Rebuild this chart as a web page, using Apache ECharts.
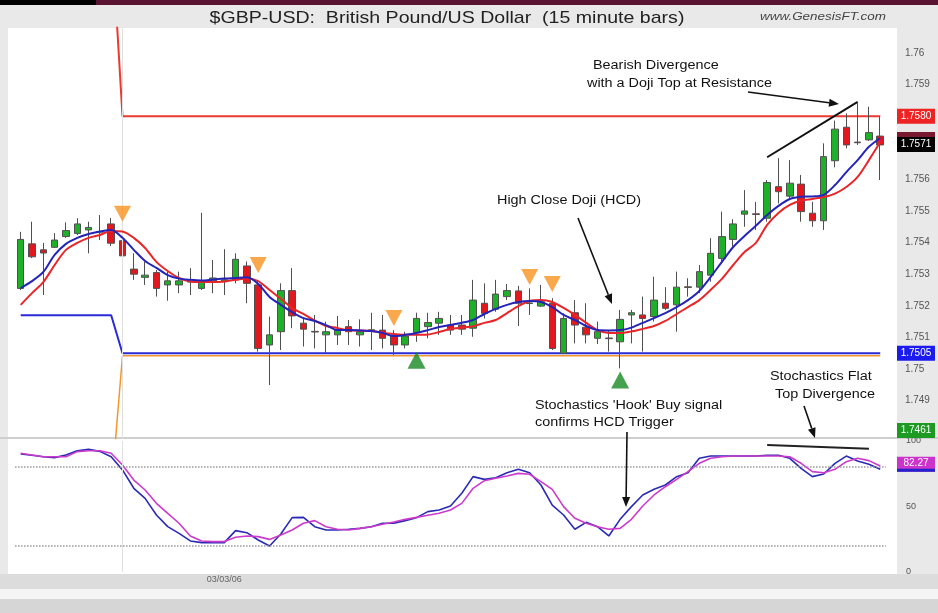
<!DOCTYPE html>
<html><head><meta charset="utf-8">
<script src="https://cdn.jsdelivr.net/npm/echarts@6/dist/echarts.min.js"></script>
<style>html,body{margin:0;padding:0;background:#e9e9e9;}#c{width:938px;height:613px;}</style>
</head><body><div id="c"></div>
<script>
// ---------- DATA ----------
const titleText = '$GBP-USD:  British Pound/US Dollar  (15 minute bars)';
const siteText = 'www.GenesisFT.com';
const dateLabel = '03/03/06';
const dateLabelIndex = 18;
const dayBreakIndex = 9;

// 15-minute bar times
const categories = [];
(function(){ let h = 21, m = 30, d = '03/02'; for (let i = 0; i < 77; i++) { m += 15; if (m >= 60) { m -= 60; h++; } if (h >= 24) { h = 0; d = '03/03'; } categories.push(d + ' ' + String(h).padStart(2,'0') + ':' + String(m).padStart(2,'0')); } })();

// [open, close, low, high]
const ohlc = [
 [1.75255,1.75410,1.75250,1.75434],[1.75396,1.75355,1.75351,1.75466],[1.75377,1.75367,1.75234,1.75399],[1.75385,1.75408,1.75383,1.75430],[1.75419,1.75438,1.75415,1.75464],
 [1.75429,1.75459,1.75424,1.75477],[1.75440,1.75448,1.75366,1.75466],[1.75435,1.75433,1.75408,1.75487],[1.75459,1.75398,1.75389,1.75478],[1.75406,1.75358,1.75303,1.75419],
 [1.75316,1.75300,1.75282,1.75366],[1.75290,1.75297,1.75266,1.75340],[1.75305,1.75255,1.75229,1.75313],[1.75266,1.75279,1.75216,1.75308],[1.75266,1.75279,1.75240,1.75308],
 [1.75277,1.75275,1.75234,1.75319],[1.75255,1.75276,1.75250,1.75494],[1.75279,1.75288,1.75240,1.75345],[1.75276,1.75282,1.75234,1.75379],[1.75282,1.75347,1.75271,1.75366],
 [1.75326,1.75271,1.75208,1.75340],[1.75266,1.75065,1.75055,1.75282],[1.75076,1.75108,1.74949,1.75166],[1.75118,1.75248,1.75060,1.75271],[1.75248,1.75168,1.75129,1.75319],
 [1.75145,1.75126,1.75071,1.75161],[1.75119,1.75117,1.75065,1.75171],[1.75108,1.75118,1.75050,1.75150],[1.75108,1.75126,1.75076,1.75168],[1.75134,1.75118,1.75076,1.75155],
 [1.75108,1.75118,1.75071,1.75157],[1.75124,1.75122,1.75060,1.75178],[1.75123,1.75097,1.75065,1.75171],[1.75104,1.75076,1.75044,1.75123],[1.75076,1.75104,1.75065,1.75118],
 [1.75115,1.75160,1.75086,1.75178],[1.75134,1.75147,1.75097,1.75178],[1.75145,1.75160,1.75108,1.75181],[1.75139,1.75123,1.75108,1.75171],[1.75139,1.75126,1.75108,1.75171],
 [1.75129,1.75218,1.75102,1.75282],[1.75208,1.75176,1.75160,1.75271],[1.75189,1.75237,1.75181,1.75282],[1.75229,1.75248,1.75218,1.75269],[1.75247,1.75208,1.75136,1.75263],
 [1.75209,1.75207,1.75171,1.75255],[1.75199,1.75213,1.75197,1.75266],[1.75208,1.75065,1.75060,1.75224],[1.75050,1.75160,1.75047,1.75176],[1.75178,1.75139,1.75081,1.75218],
 [1.75132,1.75108,1.75081,1.75208],[1.75097,1.75118,1.75079,1.75150],[1.75098,1.75096,1.75055,1.75123],[1.75086,1.75157,1.75002,1.75187],[1.75171,1.75178,1.75081,1.75187],
 [1.75171,1.75160,1.75055,1.75229],[1.75166,1.75218,1.75150,1.75292],[1.75208,1.75192,1.75187,1.75259],[1.75203,1.75259,1.75118,1.75308],[1.75260,1.75258,1.75229,1.75287],
 [1.75259,1.75308,1.75240,1.75329],[1.75297,1.75366,1.75276,1.75414],[1.75350,1.75419,1.75334,1.75498],[1.75410,1.75459,1.75387,1.75474],[1.75490,1.75500,1.75450,1.75566],
 [1.75491,1.75489,1.75440,1.75529],[1.75477,1.75590,1.75466,1.75598],[1.75577,1.75561,1.75524,1.75667],[1.75547,1.75588,1.75535,1.75661],[1.75585,1.75498,1.75466,1.75614],
 [1.75493,1.75469,1.75450,1.75529],[1.75469,1.75672,1.75440,1.75714],[1.75659,1.75759,1.75638,1.75786],[1.75765,1.75709,1.75698,1.75809],[1.75718,1.75716,1.75709,1.75841],
 [1.75725,1.75748,1.75722,1.75830],[1.75737,1.75709,1.75598,1.75798]
];

const fastMA = [
 1.75256,1.75278,1.75307,1.75361,1.75396,1.75415,1.75427,1.75435,1.75440,1.75415,
 1.75377,1.75342,1.75320,1.75297,1.75286,1.75282,1.75280,1.75283,1.75286,1.75288,
 1.75290,1.75269,1.75228,1.75203,1.75180,1.75161,1.75152,1.75139,1.75123,1.75123,
 1.75122,1.75120,1.75114,1.75104,1.75108,1.75114,1.75123,1.75133,1.75139,1.75146,
 1.75155,1.75174,1.75190,1.75203,1.75212,1.75215,1.75212,1.75196,1.75171,1.75155,
 1.75136,1.75123,1.75122,1.75123,1.75131,1.75146,1.75161,1.75177,1.75196,1.75218,
 1.75247,1.75291,1.75339,1.75386,1.75421,1.75453,1.75487,1.75516,1.75538,1.75545,
 1.75546,1.75551,1.75582,1.75623,1.75661,1.75703,1.75731
];
const slowMA = [
 1.75203,1.75240,1.75275,1.75329,1.75377,1.75399,1.75415,1.75424,1.75437,1.75435,
 1.75415,1.75383,1.75339,1.75310,1.75288,1.75277,1.75275,1.75275,1.75277,1.75282,
 1.75286,1.75278,1.75250,1.75222,1.75193,1.75174,1.75153,1.75136,1.75130,1.75122,
 1.75122,1.75120,1.75115,1.75111,1.75108,1.75108,1.75109,1.75117,1.75127,1.75131,
 1.75135,1.75146,1.75155,1.75177,1.75199,1.75215,1.75218,1.75212,1.75193,1.75171,
 1.75146,1.75123,1.75114,1.75114,1.75119,1.75127,1.75136,1.75152,1.75174,1.75196,
 1.75218,1.75250,1.75285,1.75329,1.75370,1.75399,1.75456,1.75494,1.75519,1.75533,
 1.75538,1.75544,1.75555,1.75576,1.75608,1.75661,1.75718
];

// step levels as [barIndex, price]
const resistanceLevel = [[0,1.7640],[8,1.7640],[9,1.7580],[76,1.7580]];
const supportLevel = [[0,1.7517],[8,1.7517],[9,1.7505],[76,1.7505]];
const lowerLevel = [[0,1.7461],[8,1.7461],[9,1.75042],[76,1.75042]];

const sellSignals = [[9,1.75491],[21,1.75329],[33,1.75161],[45,1.75291],[47,1.75269]];
const buySignals = [[35,1.75028],[53,1.74965]];

const stochK = [
 90.1,89.1,88.0,87.3,89.3,92.6,93.6,92.1,88.0,77.9,
 63.9,56.2,43.5,34.6,29.5,23.7,22.4,22.4,22.4,31.6,
 30.0,24.4,19.8,29.0,41.5,41.7,34.6,32.1,32.1,32.6,
 33.3,34.6,37.2,37.2,39.2,41.5,46.1,47.3,50.4,60.1,
 72.8,70.7,72.0,75.8,78.4,75.8,66.4,51.1,43.5,32.6,
 37.9,34.6,27.5,40.2,49.9,58.8,63.1,66.4,72.8,75.8,
 86.8,88.5,88.5,88.5,88.5,88.5,89.1,89.1,86.8,79.1,
 72.8,74.8,82.9,88.5,84.7,82.2,78.4
];
const stochD = [
 90.6,89.3,88.0,88.0,88.0,91.9,92.6,92.6,90.6,81.7,
 70.2,62.6,52.4,44.8,37.2,27.5,23.7,23.2,23.2,26.5,
 27.5,27.0,24.9,28.2,32.1,37.2,39.2,34.6,32.6,32.1,
 33.3,34.6,36.4,38.2,40.2,41.7,43.3,44.8,47.3,52.4,
 63.9,69.7,71.5,73.3,75.3,74.6,69.0,63.1,49.9,41.0,
 37.2,34.6,32.6,33.3,40.2,50.4,58.8,65.1,70.7,76.6,
 83.0,86.8,88.0,88.5,88.5,88.5,88.5,88.5,88.0,83.0,
 76.6,75.8,78.4,84.2,86.8,85.0,80.9
];
const stochLevels = [80, 20];
const priceTrend = [[66,1.7567],[74,1.75845]];
const stochTrend = [[66,97],[75,94]];

const badgePrice = [
 {value: 1.7580, text: '1.7580', color: '#ee2424'},
 {value: 1.7571, text: '1.7571', color: '#000000'},
 {value: 1.7505, text: '1.7505', color: '#1b1bf0'},
 {value: 1.7461, text: '1.7461', color: '#1c9a22'}
];
const badgeStoch = {value: 82.27, text: '82.27', color: '#cc33cc'};

const notes = [
 {text: 'Bearish Divergence', x: 593, y: 66},
 {text: 'with a Doji Top at Resistance', x: 587, y: 84},
 {text: 'High Close Doji (HCD)', x: 497, y: 201},
 {text: "Stochastics 'Hook' Buy signal", x: 535, y: 406},
 {text: 'confirms HCD Trigger', x: 535, y: 423},
 {text: 'Stochastics Flat', x: 770, y: 377},
 {text: 'Top Divergence', x: 775, y: 395}
];
const arrows = [
 [748, 92, 839, 104],
 [578, 218, 612, 304],
 [627, 432, 626, 507],
 [804, 406, 815, 438]
];

// ---------- CHART ----------
const FONT = '"Liberation Sans", Arial, sans-serif';
const chart = echarts.init(document.getElementById('c'), null, {width: 938, height: 613});
const GL = 15.05, GR = 52.1;

const option = {
  backgroundColor: '#e9e9e9',
  animation: false,
  grid: [
    {left: GL, right: GR, top: 27.7, height: 410.8},
    {left: GL, right: GR, top: 441, height: 131}
  ],
  xAxis: [
    {type: 'category', gridIndex: 0, data: categories, boundaryGap: true,
     axisLine: {show: false}, axisTick: {show: false}, axisLabel: {show: false}, splitLine: {show: false}},
    {type: 'category', gridIndex: 1, data: categories, boundaryGap: true,
     axisLine: {show: false}, axisTick: {show: false}, splitLine: {show: false},
     axisLabel: {show: true, interval: 0, margin: 3, color: '#666', fontSize: 9, fontFamily: FONT,
       formatter: (v, i) => i === dateLabelIndex ? dateLabel : ''}}
  ],
  yAxis: [
    {type: 'value', gridIndex: 0, position: 'right', min: 1.7478, max: 1.7608, interval: 0.0002,
     axisLine: {show: false}, axisTick: {show: false}, splitLine: {show: false},
     axisLabel: {margin: 19, color: '#555', fontSize: 10, fontFamily: FONT,
       formatter: v => { const m = Math.round(v * 1000); return Math.abs(v * 1000 - m) < 1e-6 ? String(m / 1000) : ''; }}},
    {type: 'value', gridIndex: 1, position: 'right', min: 0, max: 100, interval: 50,
     axisLine: {show: false}, axisTick: {show: false}, splitLine: {show: false},
     axisLabel: {margin: 20, color: '#555', fontSize: 9, fontFamily: FONT}}
  ],
  series: [
    {type: 'line', name: 'dayBreak', xAxisIndex: 0, yAxisIndex: 0, data: [], z: 1,
     markLine: {silent: true, symbol: 'none', label: {show: false}, lineStyle: {color: '#e0e0e0', width: 1, type: 'solid'},
       data: [{xAxis: dayBreakIndex}]}},
    {type: 'line', name: 'dayBreak2', xAxisIndex: 1, yAxisIndex: 1, data: [], z: 1,
     markLine: {silent: true, symbol: 'none', label: {show: false}, lineStyle: {color: '#e0e0e0', width: 1, type: 'solid'},
       data: [{xAxis: dayBreakIndex}]}},
    {type: 'line', name: 'Lower', xAxisIndex: 0, yAxisIndex: 0, data: lowerLevel, showSymbol: false,
     lineStyle: {color: '#f3962c', width: 1.5}, z: 3},
    {type: 'line', name: 'Support', xAxisIndex: 0, yAxisIndex: 0, data: supportLevel, showSymbol: false,
     lineStyle: {color: '#2a2ad6', width: 2}, z: 3},
    {type: 'line', name: 'Resistance', xAxisIndex: 0, yAxisIndex: 0, data: resistanceLevel, showSymbol: false,
     lineStyle: {color: '#ec3a32', width: 2}, z: 3},
    {type: 'candlestick', name: 'GBP-USD', xAxisIndex: 0, yAxisIndex: 0, data: ohlc, barWidth: 7, z: 4,
     itemStyle: {color: '#1fb02a', color0: '#e3171e', borderColor: '#505050', borderColor0: '#505050', borderColorDoji: '#404040', borderWidth: 1},
     markLine: {silent: true, symbol: 'none', label: {show: false}, lineStyle: {color: '#111', width: 2, type: 'solid'},
       data: [[{coord: priceTrend[0]}, {coord: priceTrend[1]}]]}},
    {type: 'line', name: 'Slow MA', xAxisIndex: 0, yAxisIndex: 0, data: slowMA, showSymbol: false, smooth: 0.3,
     lineStyle: {color: '#e8262a', width: 2}, z: 5},
    {type: 'line', name: 'Fast MA', xAxisIndex: 0, yAxisIndex: 0, data: fastMA, showSymbol: false, smooth: 0.3,
     lineStyle: {color: '#2424b8', width: 2}, z: 5},
    {type: 'scatter', name: 'Sell', xAxisIndex: 0, yAxisIndex: 0, data: sellSignals, symbol: 'triangle',
     symbolRotate: 180, symbolSize: [17, 16], itemStyle: {color: '#f7921e'}, z: 6},
    {type: 'scatter', name: 'Buy', xAxisIndex: 0, yAxisIndex: 0, data: buySignals, symbol: 'triangle',
     symbolSize: [18, 17], itemStyle: {color: '#168a22'}, z: 6},
    {type: 'line', name: '%K', xAxisIndex: 1, yAxisIndex: 1, data: stochK, showSymbol: false,
     lineStyle: {color: '#2a2ab4', width: 1.6}, z: 4,
     markLine: {silent: true, symbol: 'none', label: {show: false}, lineStyle: {color: '#999', width: 1.5, type: 'dotted'},
       data: stochLevels.map(v => ({yAxis: v}))}},
    {type: 'line', name: '%D', xAxisIndex: 1, yAxisIndex: 1, data: stochD, showSymbol: false,
     lineStyle: {color: '#cc3acc', width: 1.6}, z: 4,
     markLine: {silent: true, symbol: 'none', label: {show: false}, lineStyle: {color: '#222', width: 2, type: 'solid'},
       data: [[{coord: stochTrend[0]}, {coord: stochTrend[1]}]]}}
  ]
};
chart.setOption(option);

// ---------- DECORATION / ANNOTATIONS ----------
const g = [];
// background panels
g.push({type: 'rect', z: -10, shape: {x: 0, y: 0, width: 938, height: 5}, style: {fill: '#000'}});
g.push({type: 'rect', z: -10, shape: {x: 96, y: 0, width: 842, height: 5}, style: {fill: '#5a1432'}});
g.push({type: 'rect', z: -10, shape: {x: 8, y: 28, width: 889, height: 409}, style: {fill: '#ffffff'}});
g.push({type: 'rect', z: -10, shape: {x: 0, y: 437, width: 938, height: 2}, style: {fill: '#cfcfcf'}});
g.push({type: 'rect', z: -10, shape: {x: 8, y: 439, width: 889, height: 135}, style: {fill: '#ffffff'}});
g.push({type: 'rect', z: -10, shape: {x: 0, y: 574, width: 938, height: 15}, style: {fill: '#dcdcdc'}});
g.push({type: 'rect', z: -10, shape: {x: 0, y: 589, width: 938, height: 10}, style: {fill: '#f4f4f4'}});
g.push({type: 'rect', z: -10, shape: {x: 0, y: 599, width: 938, height: 14}, style: {fill: '#d6d6d6'}});

// title (reference lettering is slightly wide)
g.push({type: 'text', z: 50, x: 447, y: 18, scaleX: 1.15, style: {text: titleText, x: 0, y: 0, fill: '#222', font: '17px ' + FONT,
  textAlign: 'center', align: 'center', textVerticalAlign: 'middle', verticalAlign: 'middle'}});
g.push({type: 'text', z: 50, x: 760, y: 17, scaleX: 1.17, style: {text: siteText, x: 0, y: 0, fill: '#444', font: 'italic 11.5px ' + FONT,
  textVerticalAlign: 'middle', verticalAlign: 'middle'}});

notes.forEach(n => g.push({type: 'text', z: 50, x: n.x, y: n.y, scaleX: 1.2, style: {text: n.text, x: 0, y: 0, fill: '#111', font: '12px ' + FONT,
  textVerticalAlign: 'middle', verticalAlign: 'middle'}}));

arrows.forEach(a => {
  const [x1, y1, x2, y2] = a;
  const ang = Math.atan2(y2 - y1, x2 - x1);
  const L = 10, W = 4;
  const bx = x2 - L * Math.cos(ang), by = y2 - L * Math.sin(ang);
  const px = -Math.sin(ang) * W, py = Math.cos(ang) * W;
  g.push({type: 'line', z: 50, shape: {x1: x1, y1: y1, x2: bx, y2: by}, style: {stroke: '#111', lineWidth: 1.6}});
  g.push({type: 'polygon', z: 50, shape: {points: [[x2, y2], [bx + px, by + py], [bx - px, by - py]]}, style: {fill: '#111'}});
});

// badges positioned with the axis scale
const gridBottom = 438;
const BX = 897, BW = 38, BH = 15;
badgePrice.forEach(b => {
  let y = chart.convertToPixel({yAxisIndex: 0}, b.value);
  if (y > gridBottom - BH / 2) y = gridBottom - BH / 2;
  if (b.text === '1.7571') {
    g.push({type: 'rect', z: 59, shape: {x: BX, y: y - BH / 2 - 5, width: BW, height: 6}, style: {fill: '#7a1830'}});
  }
  g.push({type: 'rect', z: 60, shape: {x: BX, y: y - BH / 2, width: BW, height: BH}, style: {fill: b.color}});
  g.push({type: 'text', z: 61, style: {text: b.text, x: BX + BW / 2, y: y, fill: '#fff', font: '10px ' + FONT,
    textAlign: 'center', align: 'center', textVerticalAlign: 'middle', verticalAlign: 'middle'}});
});
(function(){
  const y = chart.convertToPixel({yAxisIndex: 1}, badgeStoch.value);
  g.push({type: 'rect', z: 60, shape: {x: BX, y: y - BH / 2, width: BW, height: BH}, style: {fill: badgeStoch.color}});
  g.push({type: 'rect', z: 60, shape: {x: BX, y: y + BH / 2 - 3, width: BW, height: 3}, style: {fill: '#2222cc'}});
  g.push({type: 'text', z: 61, style: {text: badgeStoch.text, x: BX + BW / 2, y: y - 1, fill: '#fff', font: '10px ' + FONT,
    textAlign: 'center', align: 'center', textVerticalAlign: 'middle', verticalAlign: 'middle'}});
})();

chart.setOption({graphic: {elements: g}});
</script>
</body></html>
